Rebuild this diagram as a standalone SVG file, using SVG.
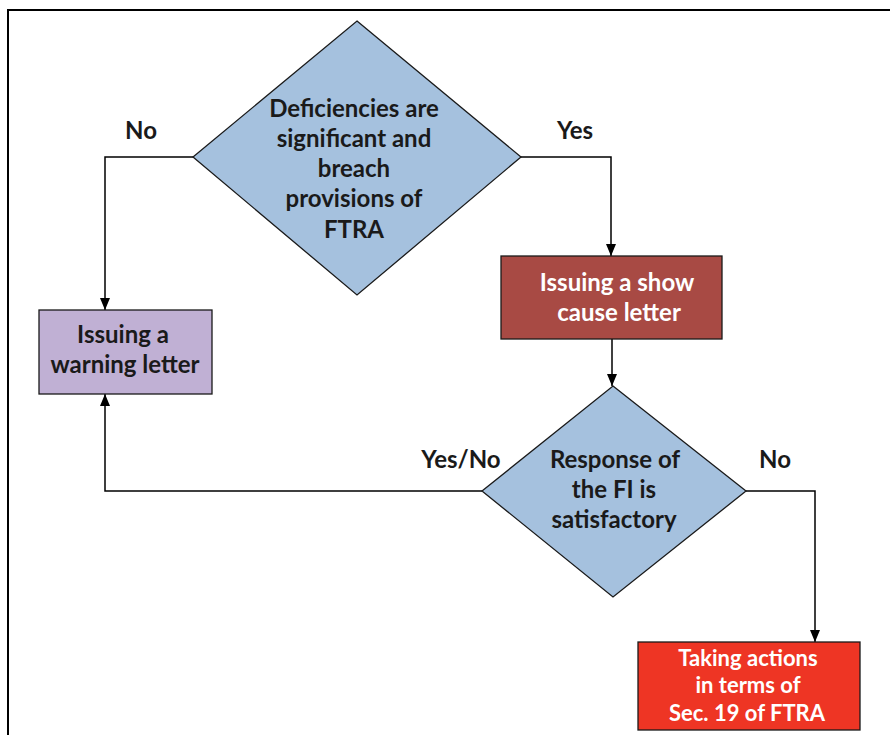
<svg xmlns="http://www.w3.org/2000/svg" width="890" height="735" viewBox="0 0 890 735">
<defs>
<marker id="ah" viewBox="0 0 12 12" refX="12" refY="6" markerWidth="12" markerHeight="12" markerUnits="userSpaceOnUse" orient="auto">
<path d="M0,1 L12,6 L0,11 Z" fill="#000"/>
</marker>
</defs>
<style>
text{font-family:Lato,"Open Sans","Liberation Sans",sans-serif;font-weight:bold;font-size:24px;text-anchor:middle;fill:#1a1a1a}
.w{fill:#fff}
.s{font-size:22px}
.shape{stroke:#1a1a1a;stroke-width:1.3}
.c path{fill:none;stroke:#000;stroke-width:1.5;marker-end:url(#ah)}
</style>
<rect width="890" height="735" fill="#fff"/>
<path d="M8,735 V10 H890" fill="none" stroke="#000" stroke-width="2"/>
<g class="c" id="connectors">
<path d="M193,157 H105 V310"/>
<path d="M521,157 H611 V256"/>
<path d="M612,339 V386"/>
<path d="M482,491 H105 V394"/>
<path d="M746,491 H815 V642"/>
</g>
<g id="labels">
<text x="141" y="139">No</text>
<text x="575" y="139">Yes</text>
<text x="461" y="468">Yes/No</text>
<text x="775" y="468">No</text>
</g>
<g id="d1">
<polygon class="shape" points="357,21 521,157 357,295 193,157" fill="#a5c1de"/>
<text x="354" y="117">Deficiencies are</text>
<text x="354" y="147">significant and</text>
<text x="354" y="177">breach</text>
<text x="354" y="207">provisions of</text>
<text x="354" y="238">FTRA</text>
</g>
<g id="warning">
<rect class="shape" x="39" y="310" width="173" height="84" fill="#c0b0d4"/>
<text x="123" y="343">Issuing a</text>
<text x="125" y="373">warning letter</text>
</g>
<g id="showcause">
<rect class="shape" x="501" y="256" width="221" height="83" fill="#a84a44"/>
<text class="w" x="617" y="291">Issuing a show</text>
<text class="w" x="619" y="321">cause letter</text>
</g>
<g id="d2">
<polygon class="shape" points="613,386 746,491 613,597 482,491" fill="#a5c1de"/>
<text x="615" y="468">Response of</text>
<text x="614" y="498">the FI is</text>
<text x="614" y="528">satisfactory</text>
</g>
<g id="action">
<rect class="shape" x="638" y="642" width="222" height="88" fill="#ee3524"/>
<text class="w s" x="748" y="666">Taking actions</text>
<text class="w s" x="748" y="693">in terms of</text>
<text class="w s" x="747" y="721">Sec. 19 of FTRA</text>
</g>
</svg>
